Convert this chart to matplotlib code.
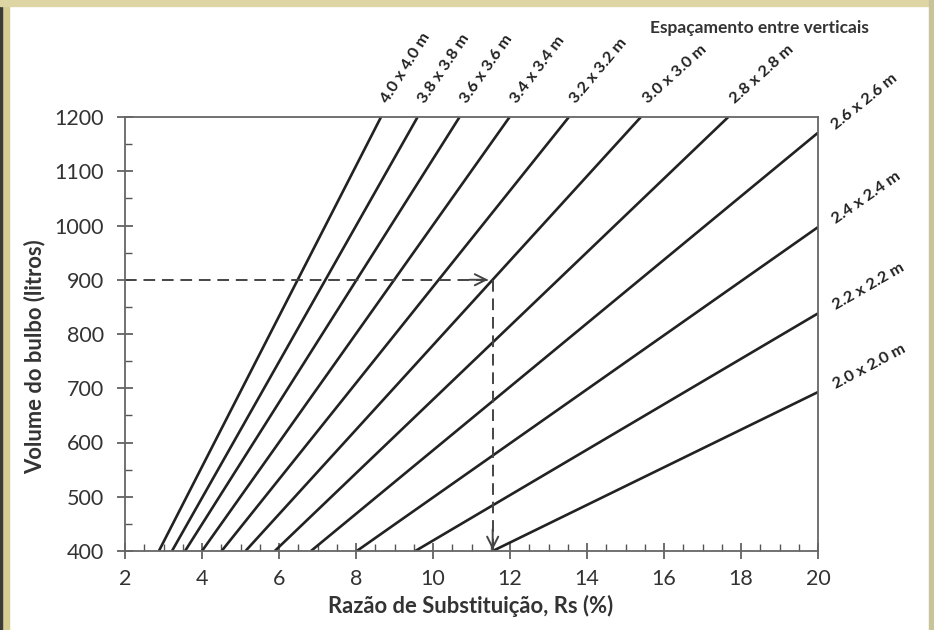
import matplotlib.pyplot as plt
from matplotlib.patches import Rectangle
from matplotlib.ticker import MultipleLocator

plt.rcParams['font.family'] = ['Lato', 'DejaVu Sans']

# Espaçamento entre verticais (one line per spacing)
spacings = ['4.0 x 4.0 m', '3.8 x 3.8 m', '3.6 x 3.6 m', '3.4 x 3.4 m', '3.2 x 3.2 m',
            '3.0 x 3.0 m', '2.8 x 2.8 m', '2.6 x 2.6 m', '2.4 x 2.4 m', '2.2 x 2.2 m',
            '2.0 x 2.0 m']
# start of each line (Rs at 400 L)
rs_start = [2.88, 3.22, 3.56, 4.00, 4.51, 5.13, 5.89, 6.83, 8.02, 9.54, 11.55]
vol_start = [400] * 11
# end of each line
rs_end = [8.65, 9.60, 10.69, 11.99, 13.53, 15.40, 17.67, 20, 20, 20, 20]
vol_end = [1200, 1200, 1200, 1200, 1200, 1200, 1200, 1171, 997, 838, 693]
# label angle
label_rot = [58, 56, 55, 53, 50, 42, 42, 39, 35, 30, 28]

# worked example: 900 L bulb, 3.0 x 3.0 m -> Rs
ex_vol = 900
ex_rs = 11.55

tan = '#d6cd93'
ink = '#222222'

fig = plt.figure(figsize=(9.34, 6.3), dpi=100)
fig.patch.set_facecolor('white')

# frame round the picture
fig.patches.append(Rectangle((0, 0), 9 / 934, 1, transform=fig.transFigure, color=tan, zorder=0))
fig.patches.append(Rectangle((0, 0), 2 / 934, 1, transform=fig.transFigure, color='#3a3a3a', zorder=0))
fig.patches.append(Rectangle((0, 1 - 6 / 630), 1, 6 / 630, transform=fig.transFigure, color='#ddd6a4', zorder=0))
fig.patches.append(Rectangle((929 / 934, 0), 5 / 934, 1, transform=fig.transFigure, color='#c9c39a', zorder=0))

ax = fig.add_axes([125 / 934, 1 - 551 / 630, 693 / 934, 434 / 630])

for i in range(len(spacings)):
    ax.plot([rs_start[i], rs_end[i]], [vol_start[i], vol_end[i]], color=ink, lw=1.9,
            solid_capstyle='butt')
    if vol_end[i] >= 1200:
        off = (7, 13)
    else:
        off = (18, 3)
    ax.annotate(spacings[i], xy=(rs_end[i], vol_end[i]), xytext=off, textcoords='offset pixels',
                rotation=label_rot[i], rotation_mode='anchor', ha='left', va='baseline',
                fontsize=11.8, fontweight='bold', color=ink, annotation_clip=False)

# dashed arrows of the example
ax.plot([2, ex_rs - 0.12], [ex_vol, ex_vol], ls=(0, (6, 3.5)), color='#444444', lw=1.4)
ax.plot([ex_rs, ex_rs], [ex_vol, 400], ls=(0, (6, 3.5)), color='#444444', lw=1.4)
ax.annotate('', xy=(ex_rs - 0.12, ex_vol), xytext=(ex_rs - 0.6, ex_vol),
            arrowprops=dict(arrowstyle='->', color='#444444', lw=1.4, mutation_scale=20,
                            shrinkA=0, shrinkB=0))
ax.annotate('', xy=(ex_rs, 402), xytext=(ex_rs, 440),
            arrowprops=dict(arrowstyle='->', color='#444444', lw=1.4, mutation_scale=20,
                            shrinkA=0, shrinkB=0))

ax.set_xlim(2, 20)
ax.set_ylim(400, 1200)
ax.xaxis.set_major_locator(MultipleLocator(2))
ax.xaxis.set_minor_locator(MultipleLocator(0.5))
ax.yaxis.set_major_locator(MultipleLocator(100))
ax.yaxis.set_minor_locator(MultipleLocator(50))
ax.tick_params(which='major', direction='inout', length=12, width=1.2, color='#555555',
               labelsize=15.5, labelcolor='#333333')
ax.tick_params(axis='x', which='major', pad=7)
ax.tick_params(axis='y', which='major', pad=9)
ax.tick_params(which='minor', direction='in', length=5, width=1.0, color='#555555')
for s in ax.spines.values():
    s.set_color('#666666')
    s.set_linewidth(1.3)

fig.text(471 / 934, 1 - 606 / 630, 'Razão de Substituição, Rs (%)', ha='center', va='center',
         fontsize=15.8, fontweight='bold', color='#333333')
fig.text(35 / 934, 1 - 357 / 630, 'Volume do bulbo (litros)', ha='center', va='center',
         rotation=90, fontsize=15.8, fontweight='bold', color='#333333')
fig.text(759 / 934, 1 - 28 / 630, 'Espaçamento entre verticais', ha='center', va='center',
         fontsize=12.5, fontweight='bold', color='#333333')

plt.savefig('out.png', dpi=100)
